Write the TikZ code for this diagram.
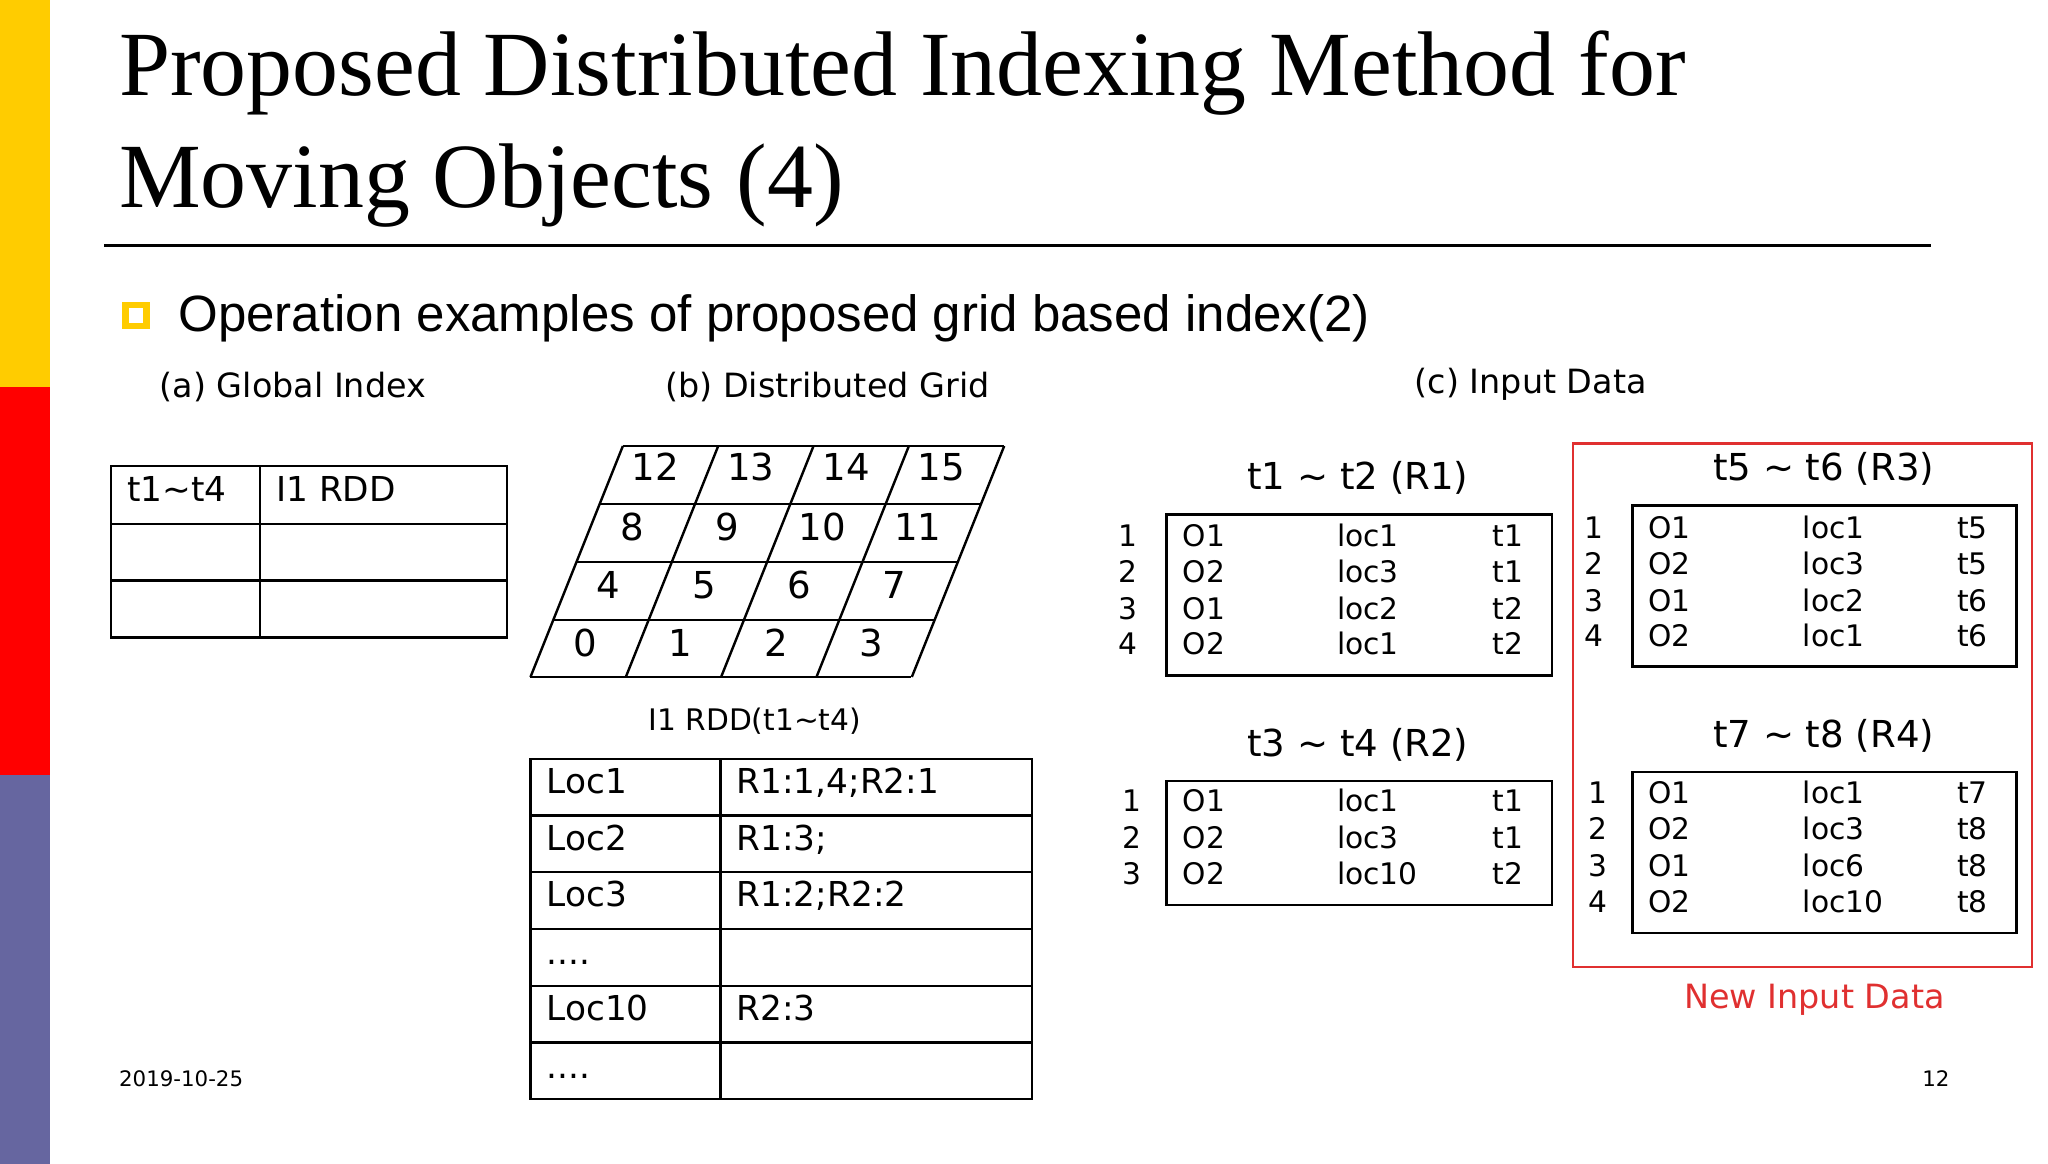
\documentclass[tikz,border=0pt]{standalone}
\usepackage{fontspec}
\setmainfont{Liberation Serif}
\newfontfamily\verd{DejaVu Sans}
\newfontfamily\ari{Liberation Sans}
\definecolor{barYellow}{HTML}{FFCC00}
\definecolor{barRed}{HTML}{FF0000}
\definecolor{barPurple}{HTML}{6666A0}
\definecolor{redbox}{HTML}{E03030}
\tikzset{
 txt/.style={inner sep=0pt,anchor=mid west,font=\verd\fontsize{18.5}{18.5}\selectfont},
 sm/.style={inner sep=0pt,anchor=mid west,font=\verd\fontsize{16}{16}\selectfont},
 ctr/.style={inner sep=0pt,anchor=mid,font=\verd\fontsize{18}{18}\selectfont},
 tb/.style={draw=black,line width=1.3pt},
}
\begin{document}
\begin{tikzpicture}[x=0.025cm,y=-0.025cm]
\useasboundingbox (0,0) rectangle (1552,882);
\fill[white] (0,0) rectangle (1552,882);
\fill[barYellow] (0,0) rectangle (38,293);
\fill[barRed] (0,293) rectangle (38,587);
\fill[barPurple] (0,587) rectangle (38,882);
% title
\node[inner sep=0pt,anchor=base west,font=\fontsize{49.5}{49.5}\selectfont] (t1) at (90,72) {Proposed Distributed Indexing Method for};
\node[inner sep=0pt,anchor=base west,font=\fontsize{49.5}{49.5}\selectfont] (t2) at (90,157) {Moving Objects (4)};
\draw[line width=2pt] (79,186) -- (1463,186);
\draw[barYellow,line width=3.5pt] (95,231) rectangle (111,247);
\node[inner sep=0pt,anchor=base west,font=\ari\fontsize{27.5}{27.5}\selectfont] (sub) at (135,251) {Operation examples of proposed grid based index(2)};
% labels
\node[ctr] (la) at (222,298) {(a) Global Index};
\node[ctr] (lb) at (627,298) {(b) Distributed Grid};
\node[ctr] (lc) at (1160,295) {(c) Input Data};
% table a
\draw[tb] (84,353) rectangle (384,483);
\foreach \y in {397,440} \draw[tb] (84,\y) -- (384,\y);
\draw[tb] (197,353) -- (197,483);
\node[txt] (ta1) at (96,377) {t1\char`\~t4};
\node[txt] (ta2) at (209,377) {I1 RDD};
% grid
\foreach \ya in {338,382,426,470}{
 \draw[tb] (472-0.4*\ya+0.4*338,\ya) -- (761-0.4*\ya+0.4*338,\ya);
}
\draw[tb] (402,513) -- (690,513);
\foreach \c in {0,...,4}{
 \draw[tb] (472+72.25*\c,338) -- (402+72.25*\c,513);
}
\foreach \ym/\a/\b/\cc/\d in {361/12/13/14/15,406/8/9/10/11,450/4/5/6/7,494/0/1/2/3}{
 \foreach \c/\v in {0/\a,1/\b,2/\cc,3/\d}{
  \node[ctr,font=\verd\fontsize{20}{20}\selectfont] (g\v) at (472-0.4*\ym+0.4*338+34+72.25*\c,\ym) {\v};
 }
}
% table b
\node[ctr,font=\verd\fontsize{16}{16}\selectfont] (lrdd) at (572,550) {I1 RDD(t1\char`\~t4)};
\draw[tb] (402,575) rectangle (782,833);
\foreach \y in {618,661,704,747,790} \draw[tb] (402,\y) -- (782,\y);
\draw[tb] (546,575) -- (546,833);
\foreach \i/\y/\a/\b in {1/598/Loc1/{R1:1,4;R2:1},2/641/Loc2/{R1:3;},3/684/Loc3/{R1:2;R2:2},4/728/{....}/{},5/770/Loc10/{R2:3},6/814/{....}/{}}{
 \node[txt] (bl\i) at (414,\y) {\a};
 \node[txt] (br\i) at (558,\y) {\b};
}
% input data
\node[ctr,font=\verd\fontsize{20}{20}\selectfont] (h1) at (1029,368) {t1 \char`\~{} t2 (R1)};
\draw[tb] (884,390) rectangle (1176,512);
\foreach \i/\y/\o/\l/\t in {1/411/O1/loc1/t1,2/438/O2/loc3/t1,3/466/O1/loc2/t2,4/493/O2/loc1/t2}{
 \node[sm,anchor=mid] (an\i) at (855,\y) {\i};
 \node[sm] (ao\i) at (896,\y) {\o};
 \node[sm] (al\i) at (1013,\y) {\l};
 \node[sm] (at\i) at (1131,\y) {\t};
}
\node[ctr,font=\verd\fontsize{20}{20}\selectfont] (h2) at (1029,570) {t3 \char`\~{} t4 (R2)};
\draw[tb] (884,592) rectangle (1176,686);
\foreach \i/\y/\o/\l/\t in {1/612/O1/loc1/t1,2/640/O2/loc3/t1,3/667/O2/loc10/t2}{
 \node[sm,anchor=mid] (bn\i) at (858,\y) {\i};
 \node[sm] (bo\i) at (896,\y) {\o};
 \node[sm] (bbl\i) at (1013,\y) {\l};
 \node[sm] (bt\i) at (1131,\y) {\t};
}
\draw[redbox,line width=1.2pt] (1192,336) rectangle (1540,733);
\node[ctr,font=\verd\fontsize{20}{20}\selectfont] (h3) at (1382,361) {t5 \char`\~{} t6 (R3)};
\draw[tb] (1237,383) rectangle (1528,505);
\foreach \i/\y/\o/\l/\t in {1/405/O1/loc1/t5,2/432/O2/loc3/t5,3/460/O1/loc2/t6,4/487/O2/loc1/t6}{
 \node[sm,anchor=mid] (cn\i) at (1208,\y) {\i};
 \node[sm] (co\i) at (1249,\y) {\o};
 \node[sm] (cl\i) at (1366,\y) {\l};
 \node[sm] (ct\i) at (1483,\y) {\t};
}
\node[ctr,font=\verd\fontsize{20}{20}\selectfont] (h4) at (1382,563) {t7 \char`\~{} t8 (R4)};
\draw[tb] (1237,585) rectangle (1528,707);
\foreach \i/\y/\o/\l/\t in {1/606/O1/loc1/t7,2/633/O2/loc3/t8,3/661/O1/loc6/t8,4/688/O2/loc10/t8}{
 \node[sm,anchor=mid] (dn\i) at (1211,\y) {\i};
 \node[sm] (do\i) at (1249,\y) {\o};
 \node[sm] (dl\i) at (1366,\y) {\l};
 \node[sm] (dt\i) at (1483,\y) {\t};
}
\node[ctr,text=redbox] (nid) at (1375,761) {New Input Data};
\node[inner sep=0pt,anchor=mid west,font=\verd\fontsize{11.5}{11.5}\selectfont] (date) at (90,820) {2019-10-25};
\node[inner sep=0pt,anchor=mid,font=\verd\fontsize{11.5}{11.5}\selectfont] (pg) at (1467,820) {12};
\end{tikzpicture}
\end{document}
